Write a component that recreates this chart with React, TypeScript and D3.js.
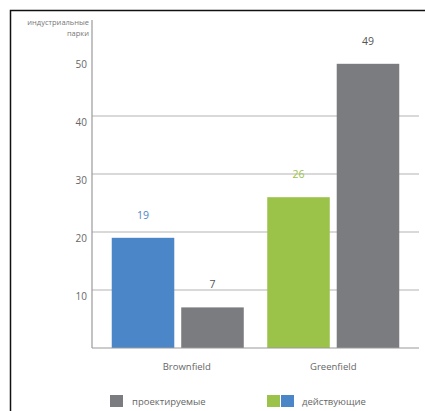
import React from "react";
import * as d3 from "d3";

const categories = ["Brownfield", "Greenfield"];
const activeValues = [19, 26];
const plannedValues = [7, 49];
const activeColors = ["#4a86c8", "#9bc34a"];
const plannedColor = "#7b7c7f";
const yTicks = [10, 20, 30, 40, 50];
const gridTicks = [10, 20, 30, 40];
const yAxisTitle = ["индустриальные", "парки"];
const legendPlanned = "проектируемые";
const legendActive = "действующие";

const W = 425;
const H = 411;
const FONT = "'Open Sans', 'DejaVu Sans', sans-serif";

export default function App() {
  const axisX = 92;
  const baseY = 348;
  const rightX = 419;
  const y = d3.scaleLinear().domain([0, 10]).range([baseY, baseY - 58]);
  const x = d3
    .scaleBand<string>()
    .domain(categories)
    .range([axisX, rightX])
    .paddingInner(0.151)
    .paddingOuter(0.127);
  const inner = d3
    .scaleBand<string>()
    .domain(["active", "planned"])
    .range([0, x.bandwidth()])
    .paddingInner(0.1);

  const bars = categories.flatMap((c, i) => [
    { key: c + "a", x: x(c)! + inner("active")!, v: activeValues[i], color: activeColors[i], labelColor: activeColors[i] },
    { key: c + "p", x: x(c)! + inner("planned")!, v: plannedValues[i], color: plannedColor, labelColor: "#555" },
  ]);

  return (
    <svg
      width={W}
      height={H}
      style={{ position: "absolute", left: 0, top: 0, display: "block", background: "#fff" }}
      fontFamily={FONT}
    >
      <rect x={10.5} y={10.5} width={500} height={500} fill="none" stroke="#111" strokeWidth={1.5} />
      {gridTicks.map((t) => (
        <line key={t} x1={axisX} x2={rightX} y1={y(t)} y2={y(t)} stroke="#b4b4b4" strokeWidth={1.2} />
      ))}
      <line x1={axisX} x2={axisX} y1={20} y2={baseY} stroke="#9a9a9a" strokeWidth={1.2} />
      {bars.map((b) => (
        <g key={b.key}>
          <rect x={b.x} y={y(b.v)} width={inner.bandwidth()} height={baseY - y(b.v)} fill={b.color} />
          <text
            x={b.x + inner.bandwidth() / 2}
            y={y(b.v) - 19}
            textAnchor="middle"
            fontSize={10.5}
            fill={b.labelColor}
          >
            {b.v}
          </text>
        </g>
      ))}
      <line x1={axisX} x2={rightX} y1={baseY} y2={baseY} stroke="#9a9a9a" strokeWidth={1.2} />
      {yTicks.map((t) => (
        <text key={t} x={87} y={y(t) + 10} textAnchor="end" fontSize={10} fill="#666">
          {t}
        </text>
      ))}
      {yAxisTitle.map((s, i) => (
        <text key={s} x={89} y={25 + i * 11} textAnchor="end" fontSize={7.5} fill="#777">
          {s}
        </text>
      ))}
      {categories.map((c) => (
        <text key={c} x={x(c)! + x.bandwidth() / 2 + (c === "Brownfield" ? 9 : 0)} y={370} textAnchor="middle" fontSize={9.5} fill="#666">
          {c}
        </text>
      ))}
      <rect x={110} y={395} width={13} height={12} fill={plannedColor} />
      <text x={132} y={404.5} fontSize={9.5} fill="#666">{legendPlanned}</text>
      <rect x={267} y={395} width={13} height={12} fill={activeColors[1]} />
      <rect x={281} y={395} width={13} height={12} fill={activeColors[0]} />
      <text x={302} y={404.5} fontSize={9.5} fill="#666">{legendActive}</text>
    </svg>
  );
}
